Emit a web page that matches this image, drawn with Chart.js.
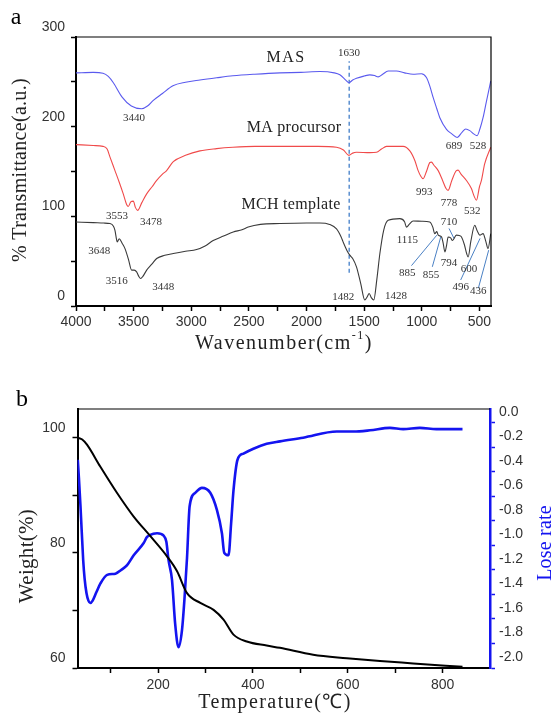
<!DOCTYPE html>
<html><head><meta charset="utf-8">
<script src="https://cdn.jsdelivr.net/npm/chart.js@4.4.0/dist/chart.umd.min.js"></script>
<style>
html,body{margin:0;padding:0;background:#fff;width:556px;height:717px;overflow:hidden}
canvas{position:absolute;left:0}
#ca{top:0}
#cb{top:360px}
</style></head><body>
<canvas id="ca" width="556" height="360"></canvas>
<canvas id="cb" width="556" height="357"></canvas>
<script>
// ---------- Panel a: FTIR ----------
const masWn = [4000,3850,3766,3720,3676,3600,3520,3430,3380,3332,3250,3159,3050,2925,2780,2639,2450,2231,2050,1885,1760,1711,1660,1633,1600,1567,1500,1451,1410,1379,1340,1292,1220,1150,1076,1003,960,930,902,870,844,786,740,694,650,619,584,550,521,495,469,440,402];
const masT  = [260,260.5,259.5,256,249,233,223,220,223,229,237,245.6,249.5,252,254.5,256.7,258.5,260,260.5,261.5,260,257.8,252,249,252,254,256.5,257.8,257,255.5,258.5,262,262,260,258.5,259,254.8,245,232.6,220,210,197,192,188,194,197.4,195.6,192,190,198,210,228,251];

const maWn = [4000,3850,3766,3730,3705,3662,3625,3590,3560,3547,3525,3503,3485,3465,3430,3387,3340,3300,3250,3214,3156,3050,2925,2780,2639,2450,2231,1900,1740,1680,1633,1600,1567,1450,1393,1350,1307,1162,1104,1060,1032,1010,989,960,930,916,895,858,820,790,772,740,700,685,660,613,570,545,526,500,483,455,402];
const maT  = [180,179,178,175,166,151,138,125,113,111,116,117,110,106.7,115,125,133,140,147,151,161,168,173,175.5,177,178,178,178,177,174,168,170.5,171.4,171,171.4,175,178,178,173,162,151,145,142,150,160,160.5,157,151,140,131,129,140,151,151.5,147,140,131,122,118,133,140,158.5,177];

const mchWn = [4000,3850,3760,3705,3675,3662,3648,3642,3625,3600,3575,3545,3517,3495,3474,3455,3439,3420,3387,3340,3300,3230,3156,3050,2954,2880,2810,2720,2636,2560,2506,2400,2231,2000,1885,1800,1740,1700,1683,1650,1625,1600,1567,1530,1495,1475,1457,1437,1417,1390,1364,1330,1292,1191,1150,1133,1110,1076,1000,931,905,888,870,858,829,815,800,785,772,750,734,700,675,656,630,610,598,575,541,520,497,469,445,426,402];
const mchT  = [93.7,93,92.5,92,89,84.4,74,71.5,75,70,64,52,40,40,38,33,30.7,33,40,47,53,56.5,58.5,61,63,67,73,78,82.6,85,88,91,92,92.6,92.6,91,86,77,71.5,62,56.7,53,43.7,25,6.7,10,14,9,6.7,30,58.5,85,95.6,97.4,94,88,91,94.8,94.5,93.7,88,80.7,83,79,77,70,60.3,68,77,76,73,79,78.5,77,68,58,54.8,72,90,84,79,80.7,72,64,80.7];

const xTicksA = [4000,3750,3500,3250,3000,2750,2500,2250,2000,1750,1500,1250,1000,750,500];
const yTicksA = [0,50,100,150,200,250,300];

const markerWn = 1630;            // dashed guide line
const markerT  = [37, 273];

const peakText = ['1630','3440','689','528','3553','3478','3648','3516','3448','993','778','532','710','1115','794','600','885','855','496','436','1482','1428'];
const peakWn   = [1632,3497,721,513,3644,3349,3798,3647,3243,978,764,562,764,1126,764,591,1126,920,663,510,1681,1224];
const peakT    = [281.6,209.3,178.1,178.1,100.2,93.8,61.2,28.2,21.5,126.6,114.3,106.1,93.8,73.5,48.2,41.2,36.4,34.5,21.5,16.7,10.4,11.1];

const seriesNames = ['MAS','MA procursor','MCH template'];
const nameWn = [2178,2109,2135];
const nameT  = [277.2,198.2,112.4];

// leader lines (from label to band)
const leadWnA = [1090,909,764,663,510];
const leadTA  = [45,43.7,86.5,29,19.7];
const leadWnB = [870,836,721,495,420];
const leadTB  = [79,77,75.4,75.4,62.3];

// ---------- Panel b: TGA / DTG ----------
const tgaTemp   = [30.6,40,50,78,113.5,148.5,183.7,218.8,240,261,289,317,338,359,387,429,457,527,598,668,738,842];
const tgaWeight = [100,99.7,98.8,95,90.4,86.3,82.9,79.4,76.8,73,71.3,70.1,68.4,65.8,64.6,63.9,63.5,62.3,61.7,61.2,60.8,60.2];

const dtgTemp = [30.6,33,36.3,42,45,49,53,57,62,70,78.4,92.5,110,122,134.6,148.5,169.6,176.7,190,197.8,211.7,217.4,222,229.3,236,243,250.4,255.9,261,266.5,278.4,292.5,310,324,334.6,339.5,348.5,354,359,367.5,380,401,429,457,506,577,612,647,689,717,752,787,842];
const dtgRate = [-0.30,-0.45,-0.68,-1.12,-1.27,-1.39,-1.45,-1.47,-1.45,-1.38,-1.31,-1.24,-1.23,-1.20,-1.16,-1.08,-0.98,-0.93,-0.905,-0.90,-0.92,-0.97,-1.12,-1.28,-1.64,-1.83,-1.69,-1.42,-1.10,-0.68,-0.57,-0.53,-0.57,-0.71,-0.90,-1.06,-1.08,-0.82,-0.55,-0.30,-0.25,-0.21,-0.17,-0.15,-0.12,-0.07,-0.07,-0.06,-0.04,-0.05,-0.04,-0.05,-0.05];

const xTicksB  = [100,200,300,400,500,600,700,800];
const yTicksB  = [60,70,80,90,100];
const y1TicksB = [0,-0.2,-0.4,-0.6,-0.8,-1.0,-1.2,-1.4,-1.6,-1.8,-2.0];

// ---------- helpers ----------
const pts = (xs, ys) => xs.map((x, i) => ({x: x, y: ys[i]}));
const SANS = '"Liberation Sans", Arial, sans-serif';
const SERIF = '"Liberation Serif", "Times New Roman", serif';

function spacedText(ctx, parts, cx, cy, spacing) {
  // parts: [{t, font, dy}] drawn left to right, centered at cx
  ctx.letterSpacing = spacing + 'px';
  let total = 0;
  parts.forEach(p => { ctx.font = p.font; p.w = ctx.measureText(p.t).width; total += p.w; });
  let x = cx - total / 2;
  ctx.textAlign = 'left';
  parts.forEach(p => { ctx.font = p.font; ctx.fillText(p.t, x, cy + (p.dy || 0)); x += p.w; });
  ctx.letterSpacing = '0px';
}
function rotText(ctx, t, cx, cy, font, color, spacing) {
  ctx.save();
  ctx.translate(cx, cy);
  ctx.rotate(-Math.PI / 2);
  ctx.fillStyle = color;
  ctx.textBaseline = 'middle';
  spacedText(ctx, [{t: t, font: font}], 0, 0, spacing);
  ctx.restore();
}

const decorA = {
  id: 'decorA',
  afterDraw(chart) {
    const {ctx, chartArea: a, scales: {x, y}} = chart;
    ctx.save();
    ctx.strokeStyle = '#000'; ctx.lineWidth = 1.2;
    ctx.beginPath();
    ctx.moveTo(a.left, a.top); ctx.lineTo(a.right, a.top); ctx.lineTo(a.right, a.bottom);
    ctx.stroke();
    ctx.fillStyle = '#333'; ctx.textAlign = 'center'; ctx.textBaseline = 'middle';
    ctx.font = '11px ' + SERIF;
    peakText.forEach((t, i) => ctx.fillText(t, x.getPixelForValue(peakWn[i]), y.getPixelForValue(peakT[i])));
    ctx.font = '16px ' + SERIF; ctx.fillStyle = '#222';
    seriesNames.forEach((t, i) => {
      ctx.letterSpacing = i === 0 ? '1.5px' : '0.3px';
      ctx.fillText(t, x.getPixelForValue(nameWn[i]), y.getPixelForValue(nameT[i]));
    });
    ctx.letterSpacing = '0px';
    ctx.fillStyle = '#000'; ctx.font = '24px ' + SERIF;
    ctx.fillText('a', 16, 18);
    ctx.fillStyle = '#222'; ctx.textBaseline = 'middle';
    spacedText(ctx, [
      {t: 'Wavenumber(cm', font: '20px ' + SERIF},
      {t: '-1', font: '12px ' + SERIF, dy: -8},
      {t: ')', font: '20px ' + SERIF}
    ], 284, 344, 1.5);
    rotText(ctx, '% Transmittance(a.u.)', 21, 170, '20px ' + SERIF, '#222', 0.3);
    ctx.restore();
  }
};

const decorB = {
  id: 'decorB',
  afterDraw(chart) {
    const {ctx, chartArea: a} = chart;
    ctx.save();
    ctx.strokeStyle = '#000'; ctx.lineWidth = 1.2;
    ctx.beginPath(); ctx.moveTo(a.left, a.top); ctx.lineTo(a.right, a.top); ctx.stroke();
    ctx.fillStyle = '#000'; ctx.textAlign = 'center'; ctx.textBaseline = 'middle';
    ctx.font = '24px ' + SERIF;
    ctx.fillText('b', 22, 40);
    ctx.fillStyle = '#222';
    spacedText(ctx, [{t: 'Temperature(\u2103)', font: '20px ' + SERIF}], 275, 343, 1.4);
    rotText(ctx, 'Weight(%)', 27, 196, '21px ' + SERIF, '#222', 0.3);
    rotText(ctx, 'Lose rate', 546, 183, '20px ' + SERIF, '#1414f0', 0.2);
    ctx.restore();
  }
};

const tickFont = {family: SANS, size: 14};

new Chart(document.getElementById('ca'), {
  type: 'line',
  data: {
    datasets: [
      {data: pts(masWn, masT), borderColor: '#5a5aee', borderWidth: 1.1},
      {data: pts(maWn, maT), borderColor: '#f04a4a', borderWidth: 1.1},
      {data: pts(mchWn, mchT), borderColor: '#3a3a3a', borderWidth: 1.1},
      {data: pts([markerWn, markerWn], markerT), borderColor: '#5b8fd0', borderWidth: 1.5, borderDash: [4, 3], cubicInterpolationMode: 'default', tension: 0},
      ...leadWnA.map((w, i) => ({data: [{x: w, y: leadTA[i]}, {x: leadWnB[i], y: leadTB[i]}], borderColor: '#4a80c4', borderWidth: 1, tension: 0, cubicInterpolationMode: 'default'}))
    ]
  },
  options: {
    responsive: false, animation: false, devicePixelRatio: 1,
    layout: {padding: {left: 0, right: 65, top: 37, bottom: 0}},
    elements: {point: {radius: 0}, line: {cubicInterpolationMode: 'monotone'}},
    plugins: {legend: {display: false}, tooltip: {enabled: false}},
    scales: {
      x: {
        type: 'linear', reverse: true, min: 400, max: 4000,
        afterBuildTicks: s => { s.ticks = xTicksA.map(v => ({value: v})); },
        afterFit: s => { s.height = 54; },
        ticks: {callback: v => (v % 500 === 0 ? String(v) : ''), font: tickFont, color: '#333', padding: 3, maxRotation: 0, autoSkip: false},
        grid: {drawOnChartArea: false, drawTicks: true, tickLength: 5, color: '#000', tickWidth: 1.5},
        border: {color: '#000', width: 2}
      },
      y: {
        type: 'linear', min: 0, max: 300,
        afterBuildTicks: s => { s.ticks = yTicksA.map(v => ({value: v})); },
        afterFit: s => { s.width = 76; },
        ticks: {callback: v => (v % 100 === 0 ? String(v) : ''), font: tickFont, color: '#333', padding: 6, labelOffset: -10, autoSkip: false},
        grid: {drawOnChartArea: false, drawTicks: true, tickLength: 5, color: '#000', tickWidth: 1.5},
        border: {color: '#000', width: 2}
      }
    }
  },
  plugins: [decorA]
});

new Chart(document.getElementById('cb'), {
  type: 'line',
  data: {
    datasets: [
      {data: pts(tgaTemp, tgaWeight), borderColor: '#000', borderWidth: 2, yAxisID: 'y'},
      {data: pts(dtgTemp, dtgRate), borderColor: '#1414f0', borderWidth: 2.6, yAxisID: 'y1'}
    ]
  },
  options: {
    responsive: false, animation: false, devicePixelRatio: 1,
    layout: {padding: {left: 0, right: 0, top: 49, bottom: 0}},
    elements: {point: {radius: 0}, line: {cubicInterpolationMode: 'monotone'}},
    plugins: {legend: {display: false}, tooltip: {enabled: false}},
    scales: {
      x: {
        type: 'linear', min: 30, max: 900,
        afterBuildTicks: s => { s.ticks = xTicksB.map(v => ({value: v})); },
        afterFit: s => { s.height = 49; },
        ticks: {callback: v => (v % 200 === 0 ? String(v) : ''), font: tickFont, color: '#333', padding: 4, maxRotation: 0, autoSkip: false},
        grid: {drawOnChartArea: false, drawTicks: true, tickLength: 5, color: '#000', tickWidth: 1.5},
        border: {color: '#000', width: 2}
      },
      y: {
        type: 'linear', position: 'left', min: 60, max: 105,
        afterBuildTicks: s => { s.ticks = yTicksB.map(v => ({value: v})); },
        afterFit: s => { s.width = 77.5; },
        ticks: {callback: v => (v % 20 === 0 ? String(v) : ''), font: tickFont, color: '#333', padding: 7, labelOffset: -10, autoSkip: false},
        grid: {drawOnChartArea: false, drawTicks: true, tickLength: 5, color: '#000', tickWidth: 1.5},
        border: {color: '#000', width: 2}
      },
      y1: {
        type: 'linear', position: 'right', min: -2.0, max: 0.114,
        afterBuildTicks: s => { s.ticks = y1TicksB.map(v => ({value: v})); },
        afterFit: s => { s.width = 66; },
        ticks: {callback: v => Number(v).toFixed(1), font: tickFont, color: '#333', padding: 4, labelOffset: -11, autoSkip: false},
        grid: {drawOnChartArea: false, drawTicks: true, tickLength: 5, color: '#1414f0', tickWidth: 1.5},
        border: {color: '#1414f0', width: 2.5}
      }
    }
  },
  plugins: [decorB]
});
</script>
</body></html>
